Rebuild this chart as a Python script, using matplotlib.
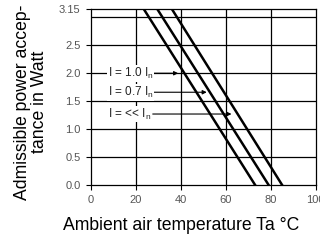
import matplotlib
matplotlib.use("Agg")
import matplotlib.pyplot as plt

## Data
# derating lines: temperature at full load (3.15 W) and at zero load
line_top_temp = [23.5, 29.5, 36.0]
line_zero_temp = [73.0, 79.0, 85.0]
p_max = 3.15

labels = ["I = 1.0 I$_\\mathregular{n}$", "I = 0.7 I$_\\mathregular{n}$", "I = << I$_\\mathregular{n}$"]
label_y = [2.0, 1.66, 1.27]
arrow_tip_x = [38.8, 51.5, 62.5]

yticks = [0.0, 0.5, 1.0, 1.5, 2.0, 2.5, 3.15]
ytick_labels = ["0.0", "0.5", "1.0", "1.5", "2.0", "2.5", "3.15"]
xticks = [0, 20, 40, 60, 80, 100]

plt.rcParams['font.family'] = ['Liberation Sans', 'DejaVu Sans']

fig = plt.figure(figsize=(3.2, 2.44), dpi=100)
ax = fig.add_axes([0.284, 0.242, 0.703, 0.721])

for t0, t1 in zip(line_top_temp, line_zero_temp):
    ax.plot([t0, t1], [p_max, 0.0], color='black', lw=1.8, zorder=3)

# grid (3.0 has a line but no label)
for gx in [20, 40, 60, 80]:
    ax.axvline(gx, color='black', lw=0.9, zorder=1)
for gy in [0.5, 1.0, 1.5, 2.0, 2.5, 3.0]:
    ax.axhline(gy, color='black', lw=0.9, zorder=1)

for lab, y, tip in zip(labels, label_y, arrow_tip_x):
    ax.annotate("", xy=(tip, y), xytext=(27.5, y),
                arrowprops=dict(arrowstyle='-|>', color='black', lw=0.8,
                                mutation_scale=6, shrinkA=0, shrinkB=0), zorder=4)
    ax.text(7.5, y, lab, ha='left', va='center', fontsize=8.5, color='#222222',
            bbox=dict(facecolor='white', edgecolor='none', pad=0.5), zorder=5)

ax.set_xlim(0, 100)
ax.set_ylim(0, p_max)
ax.set_xticks(xticks)
ax.set_yticks(yticks)
ax.set_yticklabels(ytick_labels)
ax.tick_params(labelsize=8, labelcolor='#555555', length=3.5, width=0.8)
ax.tick_params(axis='x', pad=4)
ax.tick_params(axis='y', pad=4)
for s in ax.spines.values():
    s.set_linewidth(0.9)

fig.text(0.566, 0.074, "Ambient air temperature Ta °C", fontsize=12.7,
         ha='center', va='center')
fig.text(0.097, 0.582, "Admissible power accep-\ntance in Watt", fontsize=12.7,
         ha='center', va='center', rotation=90, linespacing=0.95,
         multialignment='center')

fig.savefig("out.png", dpi=100)
